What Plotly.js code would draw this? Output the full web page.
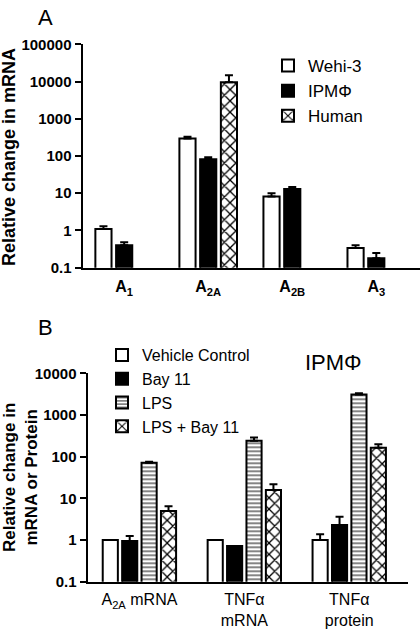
<!DOCTYPE html>
<html>
<head>
<meta charset="utf-8">
<script src="https://cdn.plot.ly/plotly-3.0.1.min.js"></script>
<style>html,body{margin:0;padding:0;background:#fff}#chart{width:420px;height:630px}</style>
</head>
<body>
<div id="chart"></div>
<script>
// ---- Panel A data ----
const catsA = ['A<sub>1</sub>', 'A<sub>2A</sub>', 'A<sub>2B</sub>', 'A<sub>3</sub>'];
const wehi = [1.1, 296, 8.2, 0.34];
const wehiErr = [0.2, 34, 1.8, 0.06];
const ipm = [0.4, 82, 13, 0.18];
const ipmErr = [0.08, 10, 1.6, 0.07];
const human = [null, 9500, null, null];
const humanErr = [null, 5200, null, null];
const seriesA = ['Wehi-3', 'IPMΦ', 'Human'];

// ---- Panel B data ----
const catsB = ['A<sub>2A</sub> mRNA', 'TNFα<br>mRNA', 'TNFα<br>protein'];
const vc = [1, 1, 1];
const vcErr = [0, 0, 0.37];
const bay = [0.95, 0.72, 2.3];
const bayErr = [0.3, 0, 1.3];
const lps = [71, 240, 3100];
const lpsErr = [4, 50, 200];
const lpsBay = [5.0, 15.8, 163];
const lpsBayErr = [1.5, 6, 35];
const seriesB = ['Vehicle Control', 'Bay 11', 'LPS', 'LPS + Bay 11'];

const tickValsA = [0.1, 1, 10, 100, 1000, 10000, 100000];
const tickTextA = ['0.1', '1', '10', '100', '1000', '10000', '100000'];
const tickValsB = [0.1, 1, 10, 100, 1000, 10000];
const tickTextB = ['0.1', '1', '10', '100', '1000', '10000'];

const FONT = 'Liberation Sans, Arial, sans-serif';
const line = {color: '#000', width: 2};
function err(arr) {
  return {type: 'data', array: arr, arrayminus: arr.map(() => 0), symmetric: false,
          color: '#000', thickness: 2, width: 4};
}

const traces = [
  {type: 'bar', name: seriesA[0], x: catsA, y: wehi, error_y: err(wehiErr),
   marker: {color: '#fff', line: line}, xaxis: 'x', yaxis: 'y', legend: 'legend'},
  {type: 'bar', name: seriesA[1], x: catsA, y: ipm, error_y: err(ipmErr),
   marker: {color: '#000', line: line}, xaxis: 'x', yaxis: 'y', legend: 'legend'},
  {type: 'bar', name: seriesA[2], x: catsA, y: human, error_y: err(humanErr),
   marker: {color: '#fff', line: line, pattern: {shape: 'x', fgcolor: '#000', bgcolor: '#fff', size: 8, solidity: 0.3}},
   xaxis: 'x', yaxis: 'y', legend: 'legend'},

  {type: 'bar', name: seriesB[0], x: catsB, y: vc, error_y: err(vcErr),
   marker: {color: '#fff', line: line}, xaxis: 'x2', yaxis: 'y2', legend: 'legend2'},
  {type: 'bar', name: seriesB[1], x: catsB, y: bay, error_y: err(bayErr),
   marker: {color: '#000', line: line}, xaxis: 'x2', yaxis: 'y2', legend: 'legend2'},
  {type: 'bar', name: seriesB[2], x: catsB, y: lps, error_y: err(lpsErr),
   marker: {color: '#fff', line: line, pattern: {shape: '-', fgcolor: '#666', bgcolor: '#fff', size: 4, solidity: 0.4}},
   xaxis: 'x2', yaxis: 'y2', legend: 'legend2'},
  {type: 'bar', name: seriesB[3], x: catsB, y: lpsBay, error_y: err(lpsBayErr),
   marker: {color: '#fff', line: line, pattern: {shape: 'x', fgcolor: '#000', bgcolor: '#fff', size: 8, solidity: 0.3}},
   xaxis: 'x2', yaxis: 'y2', legend: 'legend2'}
];

const yBase = {
  type: 'log', showgrid: false, zeroline: false, showline: true, linecolor: '#000', linewidth: 2.5,
  ticks: 'outside', ticklen: 6, tickwidth: 2, tickcolor: '#000',
  tickfont: {family: FONT, size: 15, color: '#000', weight: 'bold'}
};
const xBase = {
  type: 'category', showgrid: false, zeroline: false, showline: true, linecolor: '#000', linewidth: 2.5,
  ticks: '', fixedrange: true
};

const layout = {
  width: 420, height: 630,
  margin: {l: 0, r: 0, t: 0, b: 0},
  paper_bgcolor: '#fff', plot_bgcolor: '#fff',
  font: {family: FONT, color: '#000'},
  barmode: 'group', bargap: 0.26, bargroupgap: 0.22,
  showlegend: true,
  xaxis: Object.assign({}, xBase, {domain: [83/420, 1], anchor: 'y', range: [-0.49, 3.52],
    tickfont: {family: FONT, size: 16, color: '#000', weight: 'bold'}, ticklabelstandoff: 3}),
  yaxis: Object.assign({}, yBase, {domain: [1 - 267.7/630, 1 - 44.3/630], anchor: 'x', range: [-1, 5],
    tickvals: tickValsA, ticktext: tickTextA}),
  xaxis2: Object.assign({}, xBase, {domain: [88/420, 408/420], anchor: 'y2', range: [-0.49, 2.56],
    tickfont: {family: FONT, size: 16, color: '#000'}, ticklabelstandoff: 2}),
  yaxis2: Object.assign({}, yBase, {domain: [1 - 581.7/630, 1 - 373.3/630], anchor: 'x2', range: [-1, 4],
    tickvals: tickValsB, ticktext: tickTextB}),
  legend: {x: 268/420, y: 1 - 48/630, xanchor: 'left', yanchor: 'top', bgcolor: 'rgba(0,0,0,0)',
    font: {family: FONT, size: 17, color: '#000'}, itemwidth: 30, tracegroupgap: 0},
  legend2: {x: 102/420, y: 1 - 338/630, xanchor: 'left', yanchor: 'top', bgcolor: 'rgba(0,0,0,0)',
    font: {family: FONT, size: 16, color: '#000'}, itemwidth: 30, tracegroupgap: 0},
  annotations: [
    {text: 'A', x: 45/420, y: 1 - 17/630, xref: 'paper', yref: 'paper', showarrow: false,
     xanchor: 'center', yanchor: 'middle', font: {family: FONT, size: 22, color: '#000'}},
    {text: 'B', x: 45/420, y: 1 - 327/630, xref: 'paper', yref: 'paper', showarrow: false,
     xanchor: 'center', yanchor: 'middle', font: {family: FONT, size: 22, color: '#000'}},
    {text: 'IPMΦ', x: 333/420, y: 1 - 362/630, xref: 'paper', yref: 'paper', showarrow: false,
     xanchor: 'center', yanchor: 'middle', font: {family: FONT, size: 22, color: '#000'}},
    {text: 'Relative change in mRNA', x: 9/420, y: 1 - 157/630, xref: 'paper', yref: 'paper',
     xanchor: 'center', yanchor: 'middle',
     showarrow: false, textangle: -90, font: {family: FONT, size: 18, color: '#000', weight: 'bold'}},
    {text: 'Relative change in<br>mRNA or Protein', x: 20/420, y: 1 - 478/630, xref: 'paper', yref: 'paper',
     xanchor: 'center', yanchor: 'middle',
     showarrow: false, textangle: -90, font: {family: FONT, size: 17, color: '#000', weight: 'bold'}}
  ]
};

Plotly.newPlot('chart', traces, layout, {displayModeBar: false, staticPlot: true});
</script>
</body>
</html>
